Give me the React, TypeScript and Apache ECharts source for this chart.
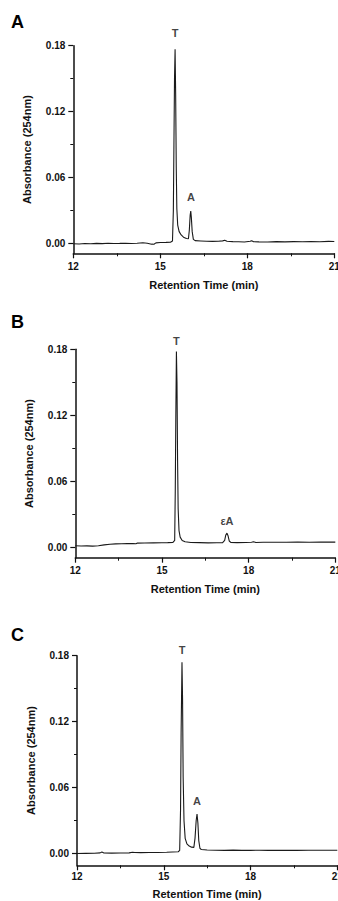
import React, { useEffect, useRef } from "react";
import * as echarts from "echarts";

// ---------- data ----------
const xTicks = [12, 15, 18, 21];
const yTickValues = [0, 0.06, 0.12, 0.18];
const yMinorValues = [0.03, 0.09, 0.15];

const traceA: [number, number][] = [
  [12.0, 0.0], [12.2, -0.0002], [12.4, 0.0002], [12.6, 0.0], [12.8, 0.0003], [13.0, 0.0001],
  [13.2, 0.0004], [13.4, 0.0002], [13.6, 0.0003], [13.8, 0.0005], [14.0, 0.0002], [14.2, 0.0004],
  [14.4, 0.0009], [14.55, 0.0004], [14.7, -0.0004], [14.78, -0.0005], [14.85, 0.0008], [15.0, 0.0011],
  [15.2, 0.0012], [15.35, 0.0014], [15.42, 0.0025],
  [15.45, 0.03], [15.47, 0.09], [15.49, 0.15], [15.51, 0.1767], [15.53, 0.135], [15.55, 0.07],
  [15.57, 0.032], [15.6, 0.017], [15.65, 0.011], [15.72, 0.008], [15.8, 0.006], [15.9, 0.0048], [15.97, 0.0045],
  [16.0, 0.012], [16.03, 0.026], [16.05, 0.0297], [16.07, 0.024], [16.1, 0.011], [16.14, 0.004], [16.2, 0.0028],
  [16.4, 0.0025], [16.6, 0.0022], [16.8, 0.0021], [17.0, 0.0022], [17.15, 0.0026], [17.22, 0.0032],
  [17.3, 0.0022], [17.5, 0.0019], [17.7, 0.0018], [17.9, 0.0016], [18.1, 0.0022], [18.15, 0.0028],
  [18.22, 0.0018], [18.4, 0.0017], [18.7, 0.0016], [19.0, 0.0019], [19.3, 0.0017], [19.6, 0.0019],
  [19.9, 0.0018], [20.2, 0.002], [20.5, 0.0018], [20.8, 0.0021], [21.0, 0.002],
];

const traceB: [number, number][] = [
  [12.0, 0.0012], [12.2, 0.001], [12.4, 0.0011], [12.6, 0.0008], [12.8, 0.0012], [13.0, 0.002],
  [13.2, 0.0026], [13.4, 0.0029], [13.6, 0.003], [13.8, 0.0032], [14.0, 0.0031], [14.1, 0.003],
  [14.15, 0.0036], [14.4, 0.0037], [14.7, 0.0038], [15.0, 0.0039], [15.2, 0.004], [15.38, 0.0042], [15.44, 0.006],
  [15.46, 0.05], [15.48, 0.12], [15.5, 0.178], [15.52, 0.15], [15.54, 0.08], [15.56, 0.035], [15.59, 0.015],
  [15.63, 0.009], [15.7, 0.006], [15.8, 0.0048], [16.0, 0.0042], [16.3, 0.004], [16.6, 0.0038], [16.9, 0.0039],
  [17.1, 0.004], [17.17, 0.006], [17.21, 0.011], [17.25, 0.0127], [17.29, 0.01], [17.33, 0.0055], [17.38, 0.0042],
  [17.6, 0.004], [17.9, 0.0041], [18.1, 0.0043], [18.17, 0.0048], [18.25, 0.0042], [18.5, 0.0043],
  [18.9, 0.0044], [19.3, 0.0043], [19.7, 0.0045], [20.1, 0.0044], [20.5, 0.0045], [21.0, 0.0045],
];

const traceC: [number, number][] = [
  [12.0, 0.0002], [12.3, 0.0003], [12.6, 0.0004], [12.8, 0.0008], [12.86, 0.0016], [12.93, 0.0007],
  [13.2, 0.0006], [13.5, 0.0007], [13.8, 0.0008], [13.92, 0.0013], [14.0, 0.0011], [14.2, 0.001],
  [14.5, 0.0011], [14.8, 0.0012], [15.1, 0.0014], [15.3, 0.0016], [15.5, 0.0018], [15.55, 0.003],
  [15.58, 0.04], [15.6, 0.11], [15.63, 0.174], [15.65, 0.14], [15.67, 0.07], [15.7, 0.03], [15.74, 0.014],
  [15.8, 0.009], [15.88, 0.007], [15.96, 0.006], [16.04, 0.0058],
  [16.08, 0.014], [16.12, 0.03], [16.15, 0.0361], [16.18, 0.028], [16.21, 0.012], [16.25, 0.005], [16.3, 0.0038],
  [16.5, 0.0034], [16.8, 0.0032], [17.1, 0.0031], [17.4, 0.0033], [17.7, 0.0031], [18.0, 0.0031],
  [18.3, 0.0032], [18.6, 0.0031], [18.9, 0.0031], [19.2, 0.0032], [19.6, 0.0031], [20.0, 0.0032],
  [20.5, 0.0032], [21.0, 0.0032],
];

const peaksA: [number, number, string][] = [[15.51, 0.1767, "T"], [16.06, 0.0297, "A"]];
const peaksB: [number, number, string][] = [[15.5, 0.178, "T"], [17.25, 0.0127, "εA"]];
const peaksC: [number, number, string][] = [[15.63, 0.174, "T"], [16.15, 0.0361, "A"]];

const panelLetters = ["A", "B", "C"];

// ---------- layout ----------
const panels = [
  { trace: traceA, peaks: peaksA, gaps: [10, 8], left: 73.3, width: 261, top: 45.7, height: 207.6, ymin: -0.0087, letterY: 22, lblMargin: 8, nameGap: 26 },
  { trace: traceB, peaks: peaksB, gaps: [4, 6], left: 75.3, width: 260, top: 349.3, height: 208.4, ymin: -0.0097, letterY: 322, lblMargin: 8, nameGap: 26 },
  { trace: traceC, peaks: peaksC, gaps: [6, 7], left: 77, width: 260.3, top: 655.7, height: 209.6, ymin: -0.0105, letterY: 634.5, lblMargin: 6, nameGap: 23 },
];

const FONT = "'Liberation Sans', Arial, sans-serif";
const INK = "#111";

export default function App() {
  const ref = useRef<HTMLDivElement>(null);
  useEffect(() => {
    if (!ref.current) return;
    const chart = echarts.init(ref.current, null, { renderer: "svg" });
    const grid: any[] = [];
    const xAxis: any[] = [];
    const yAxis: any[] = [];
    const series: any[] = [];
    const graphic: any[] = [];
    panels.forEach((p, i) => {
      grid.push({ left: p.left, top: p.top, width: p.width, height: p.height, containLabel: false, outerBoundsMode: "none" });
      xAxis.push({
        type: "value", gridIndex: i, min: xTicks[0], max: xTicks[xTicks.length - 1], interval: 3,
        axisLine: { show: true, onZero: false, lineStyle: { color: INK, width: 1.5 } },
        axisTick: { show: true, inside: false, length: 5, lineStyle: { color: INK, width: 1.2 } },
        minorTick: { show: true, splitNumber: 2, length: 3, lineStyle: { color: INK, width: 1 } },
        splitLine: { show: false }, minorSplitLine: { show: false },
        axisLabel: { margin: p.lblMargin, fontFamily: FONT, fontWeight: "bold", fontSize: 10, color: INK },
        name: "Retention Time (min)", nameLocation: "middle", nameGap: p.nameGap,
        nameTextStyle: { fontFamily: FONT, fontWeight: "bold", fontSize: 11, color: INK },
      });
      yAxis.push({
        type: "value", gridIndex: i, min: p.ymin, max: 0.18,
        axisLine: { show: true, onZero: false, lineStyle: { color: INK, width: 1.5 } },
        axisTick: { show: true, inside: false, length: 5, customValues: yTickValues, lineStyle: { color: INK, width: 1.2 } },
        splitLine: { show: false },
        axisLabel: {
          customValues: yTickValues, margin: 8, formatter: (v: number) => v.toFixed(2),
          fontFamily: FONT, fontWeight: "bold", fontSize: 10, color: INK,
        },
        name: "Absorbance (254nm)", nameLocation: "middle", nameGap: 41,
        nameTextStyle: { fontFamily: FONT, fontWeight: "bold", fontSize: 11, color: INK },
      });
      yAxis.push({
        type: "value", gridIndex: i, min: p.ymin, max: 0.18, position: "left",
        axisLine: { show: false },
        axisTick: { show: true, inside: false, length: 3, customValues: yMinorValues, lineStyle: { color: INK, width: 1 } },
        axisLabel: { show: false }, splitLine: { show: false },
      });
      series.push({
        type: "line", xAxisIndex: i, yAxisIndex: 2 * i, data: p.trace, showSymbol: false,
        lineStyle: { color: "#1a1a1a", width: 1.1 }, silent: true,
      });
      series.push({
        type: "scatter", xAxisIndex: i, yAxisIndex: 2 * i, symbolSize: 1, clip: false,
        itemStyle: { color: "rgba(0,0,0,0)" },
        data: p.peaks.map((pk, j) => ({
          value: [pk[0], pk[1]],
          label: { show: true, position: "top", distance: p.gaps[j], formatter: pk[2] },
        })),
        label: { fontFamily: FONT, fontWeight: "bold", fontSize: 11, color: INK },
      });
      graphic.push({
        type: "text", x: 11, y: p.letterY,
        style: { text: panelLetters[i], font: `bold 18px ${FONT}`, fill: "#000", verticalAlign: "middle", align: "left" },
      });
    });
    chart.setOption({ animation: false, backgroundColor: "#fff", grid, xAxis, yAxis, series, graphic });
    return () => chart.dispose();
  }, []);
  return <div ref={ref} style={{ position: "absolute", left: 0, top: 0, width: 338, height: 901 }} />;
}
